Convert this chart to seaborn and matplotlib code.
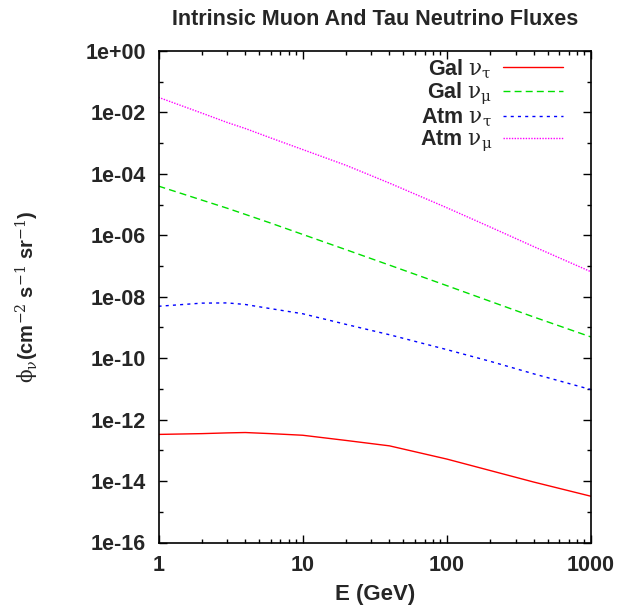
import numpy as np
import pandas as pd
import seaborn as sns
import matplotlib
matplotlib.use("Agg")
import matplotlib.pyplot as plt
from matplotlib.ticker import LogLocator, FuncFormatter, FixedLocator, NullFormatter

# energies (GeV) and fluxes
energy = [1, 2, 3, 4, 6, 10, 20, 40, 100, 200, 400, 1000]
gal_tau = [3.3e-13, 3.5e-13, 3.7e-13, 3.8e-13, 3.5e-13, 3.1e-13, 2.1e-13, 1.4e-13,
           5.2e-14, 2.2e-14, 9.3e-15, 3.2e-15]
gal_mu = [4.0e-5, 1.4e-5, 7.6e-6, 4.8e-6, 2.5e-6, 1.07e-6, 3.4e-7, 1.07e-7,
          2.3e-8, 7.1e-9, 2.2e-9, 4.9e-10]
atm_tau = [4.9e-9, 6.2e-9, 6.3e-9, 5.6e-9, 4.1e-9, 2.8e-9, 1.26e-9, 5.8e-10,
           1.9e-10, 7.9e-11, 3.1e-11, 9.5e-12]
atm_mu = [3.1e-2, 9.5e-3, 4.7e-3, 3.0e-3, 1.48e-3, 6.2e-4, 1.9e-4, 5.0e-5,
          7.9e-6, 1.86e-6, 4.3e-7, 6.5e-8]

labels = [r"Gal $\nu_\tau$", r"Gal $\nu_\mu$", r"Atm $\nu_\tau$", r"Atm $\nu_\mu$"]
series = [gal_tau, gal_mu, atm_tau, atm_mu]
colors = ["#ff0000", "#00e000", "#0000ff", "#ff00ff"]
dashes = [(None, None), (5, 3), (2.2, 3), (1, 1)]

sns.set_style("ticks")
plt.rcParams["font.family"] = ["Liberation Sans", "DejaVu Sans"]
plt.rcParams["mathtext.fontset"] = "custom"
plt.rcParams["mathtext.rm"] = "DejaVu Serif:weight=normal"
plt.rcParams["mathtext.it"] = "DejaVu Serif:weight=normal"
plt.rcParams["mathtext.bf"] = "DejaVu Serif:weight=bold"
plt.rcParams["mathtext.default"] = "rm"

fig = plt.figure(figsize=(6.19, 6.08), dpi=100)
ax = fig.add_axes([158.5 / 619, 1 - 542.5 / 608, (591 - 158.5) / 619, (542.5 - 51) / 608])

for lab, vals, c, d in zip(labels, series, colors, dashes):
    df = pd.DataFrame({"E": energy, "flux": vals})
    sns.lineplot(data=df, x="E", y="flux", ax=ax, color=c, lw=1.0, label=lab)
    if d[0] is not None:
        ax.lines[-1].set_dashes(d)

ax.set_xscale("log")
ax.set_yscale("log")
ax.set_xlim(1, 1000)
ax.set_ylim(1e-16, 1)

ax.yaxis.set_major_locator(FixedLocator([10.0 ** k for k in range(-16, 1, 2)]))
ax.yaxis.set_minor_locator(FixedLocator([10.0 ** k for k in range(-15, 0, 2)]))
ax.yaxis.set_major_formatter(FuncFormatter(lambda v, p: f"{v:.0e}"))
ax.yaxis.set_minor_formatter(NullFormatter())
ax.xaxis.set_major_locator(FixedLocator([1, 10, 100, 1000]))
ax.xaxis.set_minor_locator(LogLocator(base=10, subs=np.arange(2, 10), numticks=20))
ax.xaxis.set_major_formatter(FuncFormatter(lambda v, p: f"{v:.0f}"))
ax.xaxis.set_minor_formatter(NullFormatter())

ax.tick_params(which="both", direction="in", top=True, right=True, width=1, color="black")
ax.tick_params(which="major", length=6, labelsize=15.5, pad=9)
ax.tick_params(which="minor", length=3)
for lbl in ax.get_xticklabels() + ax.get_yticklabels():
    lbl.set_fontweight("bold")
for s in ax.spines.values():
    s.set_linewidth(1.2)
    s.set_color("black")

ax.set_xlabel("E (GeV)", fontsize=16, fontweight="bold", labelpad=6)
ax.set_ylabel(r"$\phi_\nu$(cm$^{-2}$ s$^{-1}$ sr$^{-1}$)", fontsize=14.5, fontweight="bold", labelpad=32)
ax.set_title("Intrinsic Muon And Tau Neutrino Fluxes", fontsize=15.5, fontweight="bold", pad=19)

leg = ax.legend(loc="upper right", frameon=False, markerfirst=False,
                prop={"size": 15.5, "weight": "bold"},
                handlelength=2.8, handletextpad=0.5, labelspacing=0.0,
                borderaxespad=0.0, bbox_to_anchor=(0.955, 1.005))

fig.savefig("out.png", dpi=100)
